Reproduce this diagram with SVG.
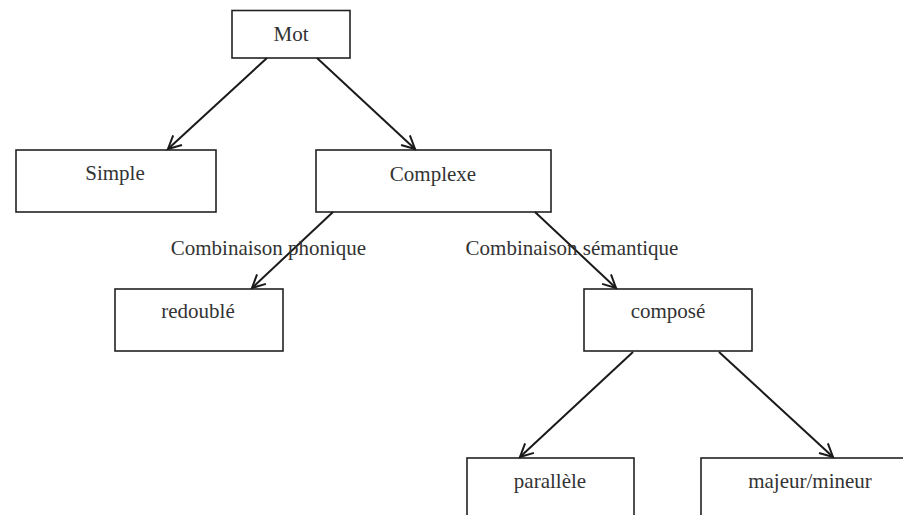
<svg xmlns="http://www.w3.org/2000/svg" width="903" height="515" viewBox="0 0 903 515">
  <defs>
    <style>
      .box { fill: #ffffff; stroke: #222222; stroke-width: 1.6; }
      .lbl { font-family: "Liberation Serif", "Times New Roman", serif; font-size: 21px; fill: #333333; text-anchor: middle; }
      .edge { stroke: #1a1a1a; stroke-width: 2; fill: none; marker-end: url(#arr); }
    </style>
    <marker id="arr" markerUnits="userSpaceOnUse" markerWidth="20" markerHeight="20" refX="0" refY="0" viewBox="-14 -10 16 20" orient="auto">
      <path d="M -13 -6.5 L 0 0 L -13 6.5" fill="none" stroke="#1a1a1a" stroke-width="2"/>
    </marker>
  </defs>
  <rect width="903" height="515" fill="#ffffff"/>

  <g id="node-mot">
    <rect class="box" x="232" y="10.5" width="118" height="47.5"/>
    <text class="lbl" x="291" y="41">Mot</text>
  </g>
  <g id="node-simple">
    <rect class="box" x="16" y="150" width="200" height="62"/>
    <text class="lbl" x="115" y="180">Simple</text>
  </g>
  <g id="node-complexe">
    <rect class="box" x="316" y="150" width="235" height="62"/>
    <text class="lbl" x="433" y="181">Complexe</text>
  </g>
  <g id="node-redouble">
    <rect class="box" x="115" y="289" width="168" height="62"/>
    <text class="lbl" x="198" y="318">redoublé</text>
  </g>
  <g id="node-compose">
    <rect class="box" x="584" y="289" width="168" height="62"/>
    <text class="lbl" x="668" y="318">composé</text>
  </g>
  <g id="node-parallele">
    <rect class="box" x="467" y="458" width="167" height="70"/>
    <text class="lbl" x="550" y="488">parallèle</text>
  </g>
  <g id="node-majeur">
    <rect class="box" x="701" y="458" width="215" height="70"/>
    <text class="lbl" x="810" y="488">majeur/mineur</text>
  </g>

  <g id="connectors">
    <line class="edge" x1="267" y1="58" x2="168" y2="149"/>
    <line class="edge" x1="317" y1="58" x2="415" y2="149"/>
    <line class="edge" x1="333" y1="212" x2="252" y2="288"/>
    <line class="edge" x1="535" y1="212" x2="616" y2="288"/>
    <line class="edge" x1="633" y1="352" x2="520" y2="457"/>
    <line class="edge" x1="719" y1="352" x2="833" y2="457"/>
    <text class="lbl" x="268.5" y="255">Combinaison phonique</text>
    <text class="lbl" x="572" y="255">Combinaison sémantique</text>
  </g>
</svg>
